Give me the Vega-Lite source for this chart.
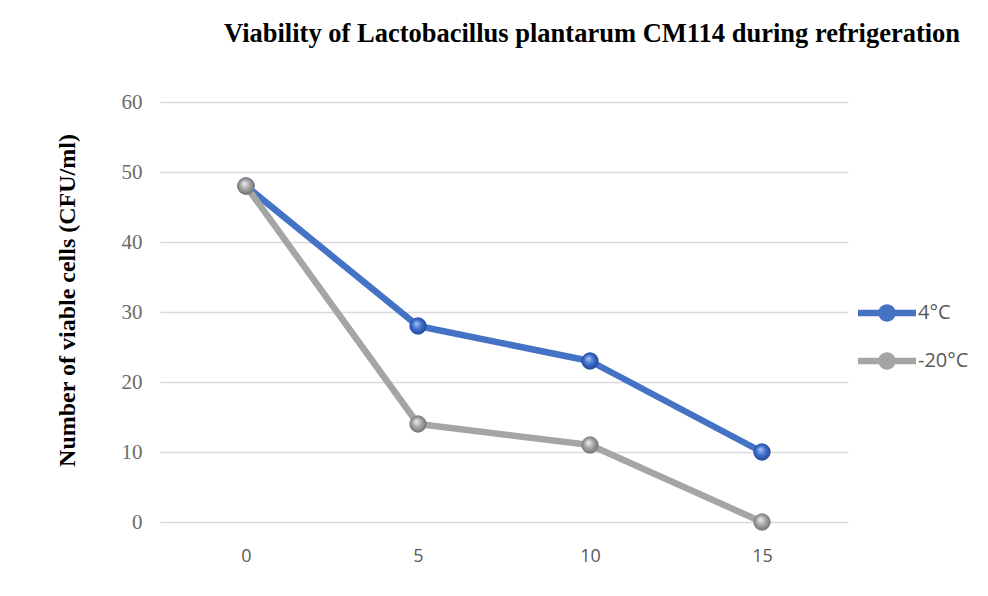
{
  "$schema": "https://vega.github.io/schema/vega-lite/v6.json",
  "autosize": "none",
  "width": 688,
  "height": 420,
  "padding": {"left": 160, "top": 102, "right": 140, "bottom": 74},
  "background": "white",
  "title": {
    "text": "Viability of Lactobacillus plantarum CM114 during refrigeration",
    "font": "Liberation Serif",
    "fontSize": 26.5,
    "fontWeight": "bold",
    "color": "#000000",
    "anchor": "start",
    "frame": "group",
    "dx": 64,
    "baseline": "alphabetic",
    "offset": 23
  },
  "data": {
    "values": [
      {"day": 0, "count": 48, "temp": "4°C"},
      {"day": 5, "count": 28, "temp": "4°C"},
      {"day": 10, "count": 23, "temp": "4°C"},
      {"day": 15, "count": 10, "temp": "4°C"},
      {"day": 0, "count": 48, "temp": "-20°C"},
      {"day": 5, "count": 14, "temp": "-20°C"},
      {"day": 10, "count": 11, "temp": "-20°C"},
      {"day": 15, "count": 0, "temp": "-20°C"}
    ]
  },
  "encoding": {
    "x": {
      "field": "day",
      "type": "ordinal",
      "scale": {"type": "point", "padding": 0.5},
      "axis": {
        "title": null,
        "labelAngle": 0,
        "labelFont": "Open Sans",
        "labelFontSize": 18,
        "labelColor": "#595959",
        "labelPadding": 25,
        "domain": false,
        "ticks": false,
        "grid": false
      }
    },
    "y": {
      "field": "count",
      "type": "quantitative",
      "scale": {"domain": [0, 60], "nice": false},
      "axis": {
        "values": [0, 10, 20, 30, 40, 50, 60],
        "title": "Number of viable cells (CFU/ml)",
        "titleFont": "Liberation Serif",
        "titleFontSize": 24,
        "titleFontWeight": "bold",
        "titleColor": "#000000",
        "titleX": -93,
        "titleY": 198,
        "titleAlign": "center",
        "titleBaseline": "middle",
        "titleAngle": 270,
        "labelFont": "Liberation Serif",
        "labelFontSize": 21,
        "labelColor": "#6b6b6b",
        "labelPadding": 18,
        "domain": false,
        "ticks": false,
        "grid": true,
        "gridColor": "#d9d9d9",
        "gridWidth": 1.5
      }
    }
  },
  "layer": [
    {
      "mark": {"type": "line", "strokeWidth": 6.5, "strokeCap": "round", "strokeJoin": "round"},
      "encoding": {
        "color": {
          "field": "temp",
          "type": "nominal",
          "scale": {"domain": ["4°C", "-20°C"], "range": ["#4472c4", "#a5a5a5"]},
          "legend": {
            "orient": "none",
            "legendX": 698,
            "legendY": 182,
            "title": null,
            "padding": 0,
            "symbolType": "M-1,-0.11L1,-0.11L1,0.11L-1,0.11Z M-0.3,0A0.3,0.3 0 1,1 0.3,0A0.3,0.3 0 1,1 -0.3,0Z",
            "symbolSize": 3364,
            "symbolStrokeWidth": 0,
            "labelFont": "Open Sans",
            "labelFontSize": 20,
            "labelColor": "#595959",
            "labelOffset": 2,
            "rowPadding": 9,
            "encode": {
              "symbols": {"update": {"fill": {"scale": "color", "field": "value"}, "opacity": {"value": 1}}}
            }
          }
        }
      }
    },
    {
      "transform": [{"filter": "datum.temp === '4°C'"}],
      "mark": {
        "type": "point",
        "filled": true,
        "size": 300,
        "opacity": 1,
        "color": {
          "gradient": "radial",
          "x1": 0.4, "y1": 0.35, "r1": 0,
          "x2": 0.5, "y2": 0.5, "r2": 0.55,
          "stops": [
            {"offset": 0, "color": "#a9c4f5"},
            {"offset": 0.5, "color": "#3f6fd0"},
            {"offset": 1, "color": "#1c3f8c"}
          ]
        }
      }
    },
    {
      "transform": [{"filter": "datum.temp === '-20°C'"}],
      "mark": {
        "type": "point",
        "filled": true,
        "size": 300,
        "opacity": 1,
        "color": {
          "gradient": "radial",
          "x1": 0.4, "y1": 0.35, "r1": 0,
          "x2": 0.5, "y2": 0.5, "r2": 0.55,
          "stops": [
            {"offset": 0, "color": "#f0f0f0"},
            {"offset": 0.5, "color": "#a5a5a5"},
            {"offset": 1, "color": "#6a6a6a"}
          ]
        }
      }
    }
  ],
  "config": {
    "view": {"stroke": null}
  }
}
